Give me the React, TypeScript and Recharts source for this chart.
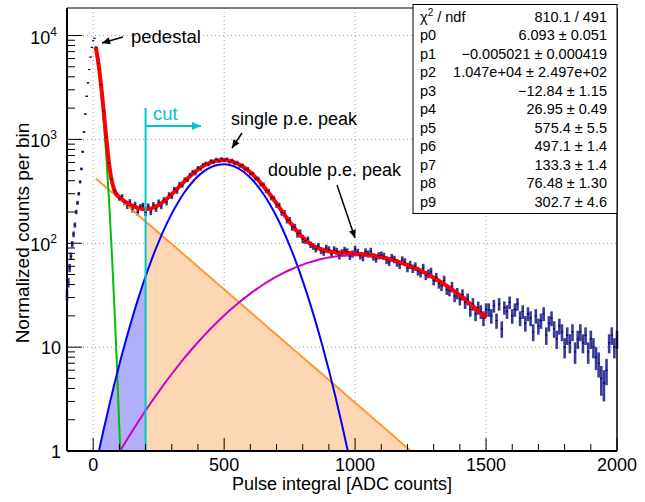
import React from 'react';
import { ComposedChart, Line, Area, Scatter, ErrorBar, XAxis, YAxis, CartesianGrid, ReferenceLine } from 'recharts';

const FONT = '"Liberation Sans", Arial, Helvetica, sans-serif';

// ---------- histogram (bin centre, normalized counts, error) ----------
const histX = [
  -100, -95, -90, -85, -80, -75, -70, -65, -60, -55,
  -50, -45, -40, -35, -30, -25, -20, -15, -10, -5,
  0, 5, 10,
  20, 30, 40, 50, 60, 70, 80, 90, 100,
  110, 120, 130, 140, 150, 160, 170, 180, 190, 200,
  210, 220, 230, 240, 250, 260, 270, 280, 290, 300,
  310, 320, 330, 340, 350, 360, 370, 380, 390, 400,
  410, 420, 430, 440, 450, 460, 470, 480, 490, 500,
  510, 520, 530, 540, 550, 560, 570, 580, 590, 600,
  610, 620, 630, 640, 650, 660, 670, 680, 690, 700,
  710, 720, 730, 740, 750, 760, 770, 780, 790, 800,
  810, 820, 830, 840, 850, 860, 870, 880, 890, 900,
  910, 920, 930, 940, 950, 960, 970, 980, 990, 1000,
  1010, 1020, 1030, 1040, 1050, 1060, 1070, 1080, 1090, 1100,
  1110, 1120, 1130, 1140, 1150, 1160, 1170, 1180, 1190, 1200,
  1210, 1220, 1230, 1240, 1250, 1260, 1270, 1280, 1290, 1300,
  1310, 1320, 1330, 1340, 1350, 1360, 1370, 1380, 1390, 1400,
  1410, 1420, 1430, 1440, 1450, 1460, 1470, 1480, 1490, 1500,
  1510, 1520, 1530, 1540, 1550, 1560, 1570, 1580, 1590, 1600,
  1610, 1620, 1630, 1640, 1650, 1660, 1670, 1680, 1690, 1700,
  1710, 1720, 1730, 1740, 1750, 1760, 1770, 1780, 1790, 1800,
  1810, 1820, 1830, 1840, 1850, 1860, 1870, 1880, 1890, 1900,
  1910, 1920, 1930, 1940, 1950, 1960, 1970, 1980, 1990, 2000,
];
const histY = [
  32, 42, 58, 75, 98, 122, 150, 200, 245, 300,
  390, 520, 760, 1180, 1750, 2600, 3500, 4700, 6200, 7700,
  8900, 9400, 7750,
  5350, 3380, 1880, 1050, 590, 415, 320, 300, 268,
  282, 247, 229, 251, 213, 236, 199, 224, 231, 198,
  227, 201, 234, 215, 248, 229, 262, 249, 293, 284,
  331, 318, 369, 362, 411, 409, 455, 487, 472, 530,
  521, 571, 587, 574, 619, 605, 641, 618, 649, 627,
  645, 611, 626, 589, 598, 557, 563, 516, 519, 470,
  468, 420, 417, 371, 366, 322, 316, 276, 270, 235,
  231, 198, 195, 168, 166, 144, 142, 124, 125, 110,
  106, 109, 97, 93, 88, 94, 85, 82, 90, 87,
  79, 87, 84, 76, 81, 86, 83, 75, 79, 88,
  82, 76, 73, 83, 79, 84, 74, 71, 76, 77,
  75, 69, 66, 73, 70, 65, 62, 69, 66, 58,
  62, 57, 60, 54, 52, 58, 49, 51, 53, 44,
  47, 41, 39, 44, 36, 35, 38, 31, 33, 29,
  32, 27, 29, 23, 26, 21, 24, 22, 19, 23,
  23, 20, 25, 18, 26, 15, 24, 22, 27, 20,
  23, 26, 19, 22, 17, 21, 19, 14, 20, 16,
  18, 21, 13, 17, 19, 15, 12, 16, 14, 10,
  13, 11, 14, 9, 12, 14, 11, 13, 9, 12,
  10, 8, 7, 5, 4.5, 6, 11, 13, 10, 12,
];
const histErr = [
  4.0, 4.6, 5.4, 6.1, 7.0, 7.8, 8.7, 10, 11, 12,
  14, 16, 19, 24, 30, 36, 42, 48, 56, 62,
  67, 69, 62,
  52, 41, 31, 23, 17, 14, 13, 12, 12,
  15, 15, 15, 15, 15, 15, 15, 15, 15, 15,
  15, 15, 15, 15, 16, 16, 16, 17, 17, 18,
  18, 19, 19, 20, 20, 21, 21, 22, 22, 23,
  23, 24, 24, 24, 25, 25, 25, 25, 25, 25,
  25, 25, 25, 24, 24, 24, 23, 23, 23, 22,
  21, 21, 20, 19, 19, 18, 18, 17, 17, 16,
  15, 14, 14, 13, 13, 12, 12, 11, 11, 10,
  7.3, 7.4, 7.0, 6.8, 6.6, 6.9, 6.5, 6.4, 6.7, 6.6,
  6.3, 6.6, 6.5, 6.2, 6.4, 6.6, 6.4, 6.1, 6.3, 6.6,
  6.4, 6.2, 6.0, 6.4, 6.3, 6.5, 6.1, 6.0, 6.2, 6.2,
  6.1, 5.9, 5.7, 6.0, 5.9, 5.7, 5.6, 5.9, 5.7, 5.4,
  5.6, 5.3, 5.5, 5.2, 5.1, 5.4, 4.9, 5.0, 5.1, 4.7,
  4.8, 4.5, 4.4, 4.7, 4.2, 4.2, 4.4, 3.9, 4.1, 3.8,
  4.0, 3.7, 3.8, 3.4, 3.6, 3.2, 3.5, 3.3, 3.1, 3.4,
  3.4, 3.2, 3.5, 3.0, 3.6, 2.7, 3.5, 3.3, 3.7, 3.2,
  3.4, 3.6, 3.1, 3.3, 2.9, 3.2, 3.1, 2.6, 3.2, 2.8,
  3.0, 3.2, 2.5, 2.9, 3.1, 2.7, 2.4, 2.8, 2.6, 2.2,
  2.5, 2.3, 2.6, 2.1, 2.4, 2.6, 2.3, 2.5, 2.1, 2.4,
  2.2, 2.0, 1.9, 1.6, 1.5, 1.7, 2.3, 2.5, 2.2, 2.4,
];

// ---------- fit curves ----------
const fitX = [
  10, 20, 30, 40, 50, 60, 70, 80, 90, 100,
  110, 120, 130, 140, 150, 160, 170, 180, 190, 200,
  225, 250, 275, 300, 325, 350, 375, 400, 425, 450,
  475, 500, 525, 550, 575, 600, 625, 650, 675, 700,
  725, 750, 775, 800, 825, 850, 875, 900, 925, 950,
  975, 1000, 1025, 1050, 1075, 1100, 1125, 1150, 1175, 1200,
  1225, 1250, 1275, 1300, 1325, 1350, 1375, 1400, 1425, 1450,
  1475, 1500,
];
const totalY = [
  7732, 5385, 3343, 1896, 1038, 603, 409, 329, 295, 277,
  265, 254, 245, 236.5, 229.5, 223.5, 218.8, 215.5, 213.3, 212.7,
  217.7, 233.1, 259.5, 296.6, 343.3, 397.4, 455.1, 511.8, 562.6, 602,
  625.9, 631.5, 617.6, 585.9, 539.1, 481.8, 418.7, 355, 295, 241.6,
  196.5, 160.6, 133.4, 113.7, 100.4, 91.8, 86.6, 83.7, 82.1, 81.2,
  80.6, 79.9, 78.9, 77.6, 75.8, 73.7, 71.2, 68.4, 65.2, 61.8,
  58.1, 54.3, 50.5, 46.6, 42.7, 38.8, 35.1, 31.5, 28.1, 24.9,
  21.9, 19.1,
];
const orangeY = [
  421.1, 400.5, 380.9, 362.2, 344.5, 327.6, 311.6, 296.3, 281.8, 268,
  254.9, 242.4, 230.5, 219.2, 208.5, 198.3, 188.6, 179.4, 170.6, 162.2,
  143.1, 126.2, 111.3, 98.2, 86.6, 76.4, 67.4, 59.4, 52.4, 46.2,
  40.8, 36, 31.7, 28, 24.7, 21.8, 19.2, 16.9, 14.9, 13.2,
  11.6, 10.25, 9.04, 7.98, 7.03, 6.21, 5.47, 4.83, 4.26, 3.76,
  3.31, 2.92, 2.58, 2.27, 2.0, 1.77, 1.56, 1.38, 1.21, 1.07,
  0.94, 0.83, 0.73, 0.64, 0.57, 0.5, 0.44, 0.39, 0.34, 0.3,
  0.27, 0.24,
];
const greenY = [7310, 4983, 2960, 1532, 690.8, 271.3, 92.9, 27.7, 7.21, 1.63, 0.32];
const blueY = [
  0.726, 0.951, 1.24, 1.61, 2.07, 2.66, 3.39, 4.31, 5.43, 6.81,
  8.49, 10.52, 12.98, 15.92, 19.39, 23.51, 28.34, 33.98, 40.49, 48.0,
  71.6, 103.2, 143.6, 192.9, 250.1, 313, 378.3, 441.3, 497.1, 540.6,
  567.5, 575.3, 562.9, 531.8, 485.1, 427.2, 363.1, 298, 236.2, 180.7,
  133.4, 95.1, 65.5, 43.5, 27.9, 17.3, 10.35, 5.98, 3.33, 1.79,
  0.93, 0.47, 0.226, 0.1,
];
const magentaY = [
  0.974, 1.074, 1.182, 1.299, 1.426, 1.565, 1.715, 1.878, 2.053, 2.243, 2.448,
  3.03, 3.72, 4.55, 5.51, 6.64, 7.95, 9.44, 11.14, 13.06, 15.2,
  17.57, 20.17, 23.0, 26.06, 29.3, 32.76, 36.35, 40.07, 43.86, 47.69,
  51.5, 55.24, 58.84, 62.25, 65.42, 68.27, 70.77, 72.86, 74.51, 75.67,
  76.33, 76.47, 76.08, 75.19, 73.8, 71.95, 69.67, 66.99, 63.98, 60.7,
  57.18, 53.51, 49.73, 45.91, 42.09, 38.33, 34.67, 31.13, 27.78, 24.62,
  21.66, 18.9,
];

// ---------- axes ----------
const xTicks = [-100, 0, 100, 200, 300, 400, 500, 600, 700, 800, 900, 1000, 1100, 1200, 1300, 1400, 1500, 1600, 1700, 1800, 1900, 2000];
const xMajor = [0, 500, 1000, 1500, 2000];
const yTicks = [
  1, 2, 3, 4, 5, 6, 7, 8, 9,
  10, 20, 30, 40, 50, 60, 70, 80, 90,
  100, 200, 300, 400, 500, 600, 700, 800, 900,
  1000, 2000, 3000, 4000, 5000, 6000, 7000, 8000, 9000,
  10000,
];
const yMajor = [1, 10, 100, 1000, 10000];
const yMajorExp = ['0', '1', '2', '3', '4'];
const gridX = [0, 500, 1000, 1500];
const gridY = [10, 100, 1000, 10000];
const cutX = 200;
const cutTop = 2000;

// ---------- fit statistics ----------
const statNames = ['p0', 'p1', 'p2', 'p3', 'p4', 'p5', 'p6', 'p7', 'p8', 'p9'];
const statValues = [
  '6.093 \u00b1 0.051',
  '\u22120.005021 \u00b1 0.000419',
  '1.047e+04 \u00b1 2.497e+02',
  '\u221212.84 \u00b1 1.15',
  '26.95 \u00b1 0.49',
  '575.4 \u00b1 5.5',
  '497.1 \u00b1 1.4',
  '133.3 \u00b1 1.4',
  '76.48 \u00b1 1.30',
  '302.7 \u00b1 4.6',
];
const chi2Text = '810.1 / 491';

const hist = histX.map((x, i) => ({ x, y: histY[i], err: histErr[i] }));
const pts = (xs: number[], ys: number[]) => ys.map((y, i) => ({ x: xs[i], y }));
const totalData = pts(fitX, totalY);
const orangeData = pts(fitX, orangeY);
const greenData = pts(fitX, greenY);
const blueData = pts(fitX, blueY);
const magentaData = pts(fitX.slice(9), magentaY);
const blueFill = blueData.slice(0, 20);
const orangeFill = orangeData.slice(19, 62);

const XTick = (props: any) => {
  const { x, y, payload } = props;
  const v = payload.value;
  const major = xMajor.includes(v);
  return (
    <g>
      <line x1={x} x2={x} y1={y} y2={y - (major ? 13 : 7)} stroke="#000" strokeWidth={1} />
      {major && (
        <text x={x} y={y + 20} textAnchor="middle" fontSize={18} fontFamily={FONT} fill="#000">
          {v}
        </text>
      )}
    </g>
  );
};

const YTick = (props: any) => {
  const { x, y, payload } = props;
  const v = payload.value;
  const mi = yMajor.indexOf(v);
  const major = mi >= 0;
  const e = major ? yMajorExp[mi] : '';
  return (
    <g>
      <line x1={x} x2={x + (major ? 15 : 8)} y1={y} y2={y} stroke="#000" strokeWidth={1} />
      {major && e === '0' && (
        <text x={x - 6} y={y + 7} textAnchor="end" fontSize={18} fontFamily={FONT} fill="#000">1</text>
      )}
      {major && e === '1' && (
        <text x={x - 6} y={y + 7} textAnchor="end" fontSize={18} fontFamily={FONT} fill="#000">10</text>
      )}
      {major && e !== '0' && e !== '1' && (
        <text x={x - 10} y={y + 8} textAnchor="end" fontSize={18} fontFamily={FONT} fill="#000">
          10<tspan dy={-8} fontSize={12}>{e}</tspan>
        </text>
      )}
    </g>
  );
};

const dotShape = (p: any) => <rect x={p.cx - 1} y={p.cy - 0.6} width={2} height={1.2} fill="#00003c" />;

export default function App() {
  return (
    <div style={{ position: 'absolute', left: 0, top: 0, width: 645, height: 502, background: '#fff' }}>
      <ComposedChart width={645} height={502} margin={{ top: 8, right: 28, bottom: 11, left: 7 }}>
        <CartesianGrid horizontalValues={gridY} verticalValues={gridX} stroke="#a0a0a0" strokeDasharray="1 3" />
        <XAxis
          type="number"
          dataKey="x"
          domain={[-100, 2000]}
          allowDataOverflow
          ticks={xTicks}
          interval={0}
          tick={<XTick />}
          tickLine={false}
          tickSize={0}
          tickMargin={0}
          axisLine={{ stroke: '#000', strokeWidth: 2 }}
          height={40}
        />
        <YAxis
          type="number"
          scale="log"
          domain={[1, 18400]}
          allowDataOverflow
          ticks={yTicks}
          interval={0}
          tick={<YTick />}
          tickLine={false}
          tickSize={0}
          tickMargin={0}
          axisLine={{ stroke: '#000', strokeWidth: 2 }}
          width={60}
        />
        <Area data={orangeFill} dataKey="y" type="linear" fill="#fdd6b4" fillOpacity={1} stroke="none" baseValue={1} isAnimationActive={false} />
        <Area data={blueFill} dataKey="y" type="monotone" fill="#b0b0fa" fillOpacity={1} stroke="none" baseValue={1} isAnimationActive={false} />
        <Scatter data={hist} dataKey="y" shape={dotShape} isAnimationActive={false}>
          <ErrorBar dataKey="err" direction="y" width={0} stroke="rgba(22,22,140,0.85)" strokeWidth={2.6} isAnimationActive={false} />
        </Scatter>
        <Line data={orangeData} dataKey="y" type="linear" stroke="#ff9933" strokeWidth={2} dot={false} isAnimationActive={false} />
        <Line data={greenData} dataKey="y" type="monotone" stroke="#00c000" strokeWidth={2} dot={false} isAnimationActive={false} />
        <Line data={blueData} dataKey="y" type="monotone" stroke="#0000ff" strokeWidth={2} dot={false} isAnimationActive={false} />
        <Line data={magentaData} dataKey="y" type="monotone" stroke="#cc00cc" strokeWidth={2} dot={false} isAnimationActive={false} />
        <Line data={totalData} dataKey="y" type="monotone" stroke="#ff0000" strokeWidth={4} dot={false} isAnimationActive={false} />
        <ReferenceLine segment={[{ x: cutX, y: 1 }, { x: cutX, y: cutTop }]} stroke="#00c8c8" strokeWidth={2} />
      </ComposedChart>

      <svg width={645} height={502} style={{ position: 'absolute', left: 0, top: 0, pointerEvents: 'none' }} fontFamily={FONT}>
        <defs>
          <marker id="arrK" viewBox="0 0 10 10" refX="10" refY="5" markerWidth="10" markerHeight="8" markerUnits="userSpaceOnUse" orient="auto">
            <path d="M0,0.5 L10,5 L0,9.5 Z" fill="#000" />
          </marker>
          <marker id="arrC" viewBox="0 0 10 10" refX="10" refY="5" markerWidth="11" markerHeight="9" markerUnits="userSpaceOnUse" orient="auto">
            <path d="M0,0.5 L10,5 L0,9.5 Z" fill="#00c8c8" />
          </marker>
        </defs>
        {/* frame */}
        <line x1={67} y1={8} x2={617} y2={8} stroke="#000" strokeWidth={1.2} />
        <line x1={617} y1={8} x2={617} y2={451} stroke="#000" strokeWidth={1.5} />

        {/* annotations */}
        <text x={131} y={43} fontSize={18.5} fill="#000">pedestal</text>
        <line x1={123} y1={37} x2={102} y2={43} stroke="#000" strokeWidth={1.5} markerEnd="url(#arrK)" />
        <text x={153} y={120} fontSize={18.5} fill="#00c8c8">cut</text>
        <line x1={146} y1={126} x2={201} y2={126} stroke="#00c8c8" strokeWidth={2} markerEnd="url(#arrC)" />
        <text x={231} y={125} fontSize={18} fill="#000">single p.e. peak</text>
        <line x1={242} y1={133} x2={232} y2={148} stroke="#000" strokeWidth={1.5} markerEnd="url(#arrK)" />
        <text x={268} y={176} fontSize={18} fill="#000">double p.e. peak</text>
        <line x1={337} y1={185} x2={355} y2={238} stroke="#000" strokeWidth={1.5} markerEnd="url(#arrK)" />

        {/* stats box */}
        <rect x={413} y={4.5} width={204} height={209} fill="#fff" stroke="#000" strokeWidth={1} />
        <text x={420} y={21.7} fontSize={14.5} fill="#000">
          {'\u03c7'}<tspan dy={-6} fontSize={10}>2</tspan><tspan dy={6}>{' / ndf'}</tspan>
        </text>
        <text x={607} y={21.7} fontSize={14.5} fill="#000" textAnchor="end">{chi2Text}</text>
        {statNames.map((n, i) => (
          <g key={n}>
            <text x={420} y={21.7 + 18.5 * (i + 1)} fontSize={14.5} fill="#000">{n}</text>
            <text x={607} y={21.7 + 18.5 * (i + 1)} fontSize={14.5} fill="#000" textAnchor="end">{statValues[i]}</text>
          </g>
        ))}

        {/* axis titles */}
        <text x={342} y={490} fontSize={18} textAnchor="middle" fill="#000">Pulse integral [ADC counts]</text>
        <text transform="translate(29,233) rotate(-90)" fontSize={19} textAnchor="middle" fill="#000">Normalized counts per bin</text>
      </svg>
    </div>
  );
}
